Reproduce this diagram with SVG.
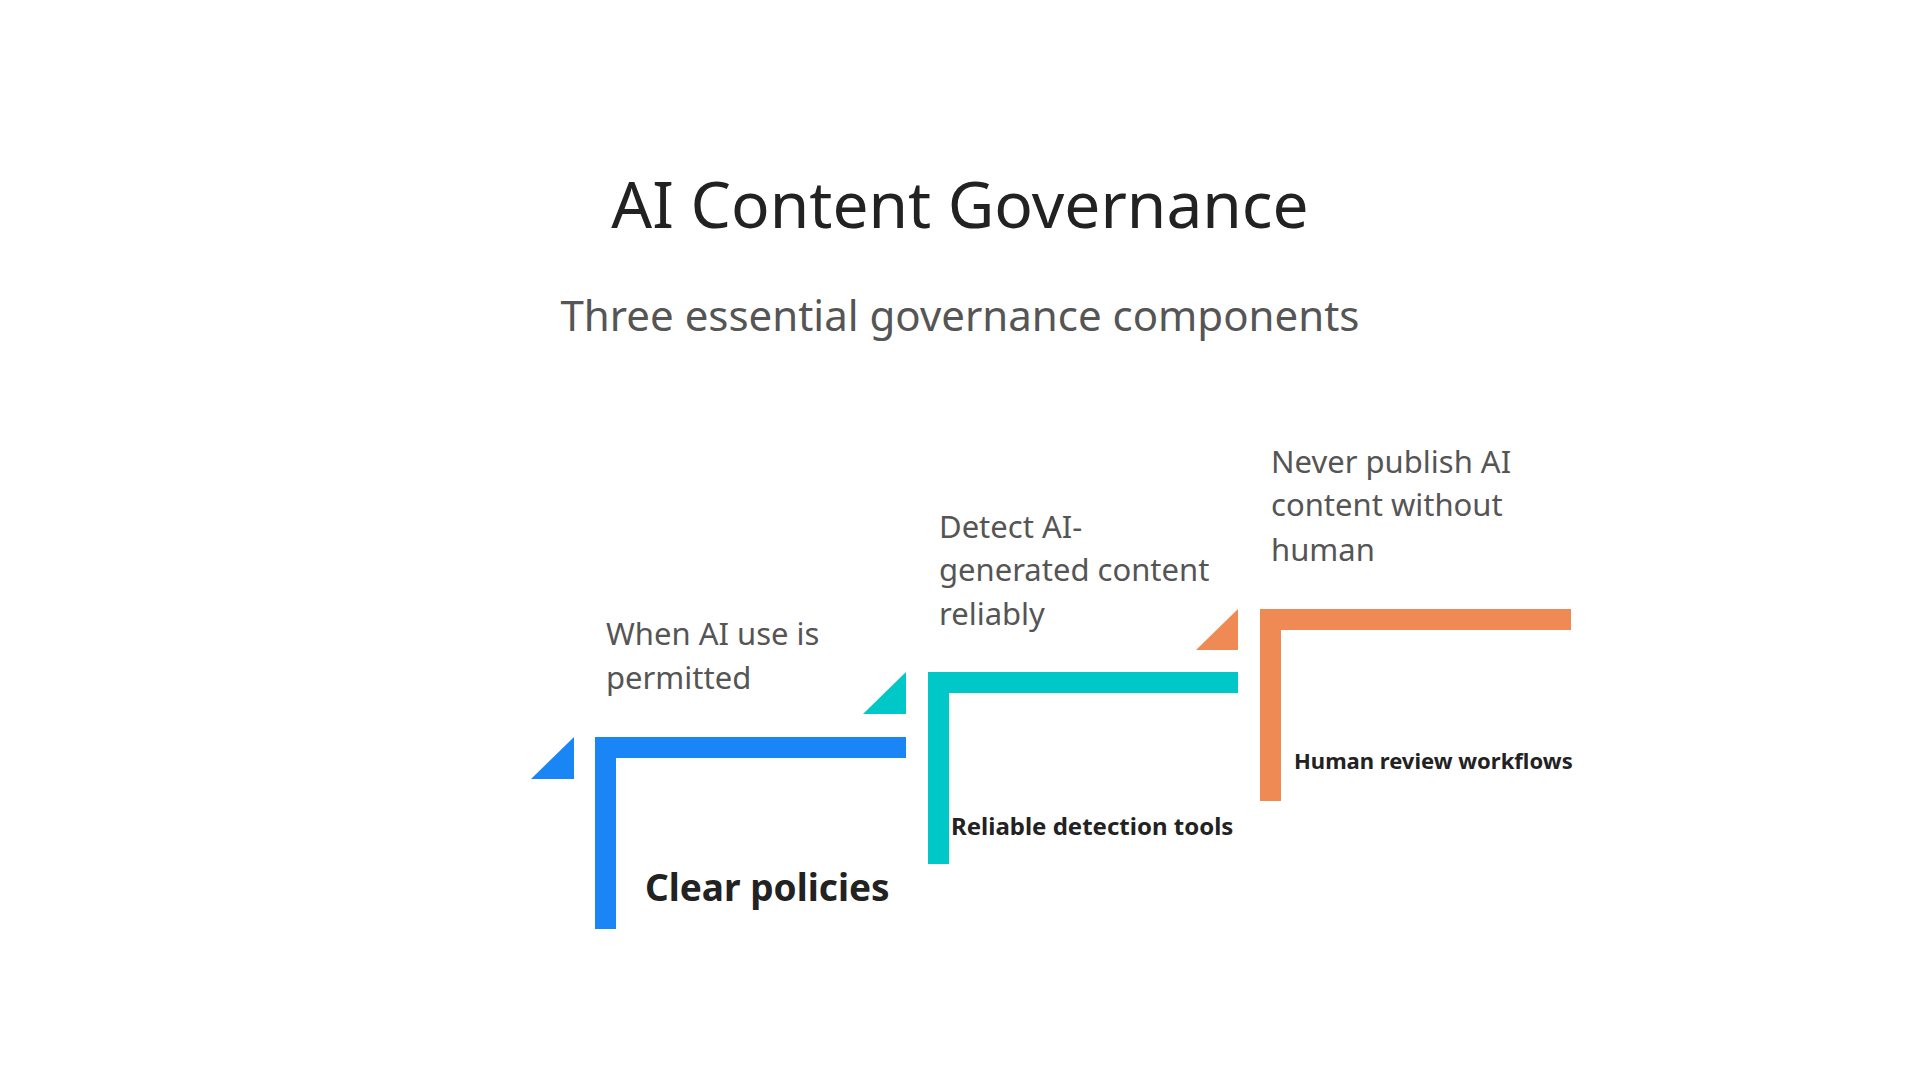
<svg xmlns="http://www.w3.org/2000/svg" width="1920" height="1080" viewBox="0 0 1920 1080">
<style>
text{font-family:"Noto Sans","Open Sans",sans-serif}
.title{font-size:64px;fill:#222}
.sub{font-size:42px;fill:#555}
.desc{font-size:31px;fill:#555}
.lbl{font-weight:bold;fill:#222}
.blue{fill:#1A85F5}.teal{fill:#00C8C8}.orange{fill:#F08A55}
</style>
<rect width="1920" height="1080" fill="#fff"/>
<text class="title" x="960" y="228" text-anchor="middle">AI Content Governance</text>
<text class="sub" x="960" y="331" text-anchor="middle">Three essential governance components</text>
<g id="step1">
<rect class="blue" x="595" y="737" width="21" height="192"/>
<rect class="blue" x="595" y="737" width="311" height="21"/>
<polygon class="blue" points="531,779 574,737 574,779"/>
<text class="lbl" x="645" y="901" font-size="37">Clear policies</text>
<text class="desc" x="606" y="645">When AI use is</text>
<text class="desc" x="606" y="689">permitted</text>
</g>
<g id="step2">
<rect class="teal" x="928" y="672" width="21" height="192"/>
<rect class="teal" x="928" y="672" width="310" height="21"/>
<polygon class="teal" points="863,714 906,672 906,714"/>
<text class="lbl" x="951" y="835" font-size="24">Reliable detection tools</text>
<text class="desc" x="939" y="538">Detect AI-</text>
<text class="desc" x="939" y="581">generated content</text>
<text class="desc" x="939" y="625">reliably</text>
</g>
<g id="step3">
<rect class="orange" x="1260" y="609" width="21" height="192"/>
<rect class="orange" x="1260" y="609" width="311" height="21"/>
<polygon class="orange" points="1196,650 1238,609 1238,650"/>
<text class="lbl" x="1294" y="769" font-size="22">Human review workflows</text>
<text class="desc" x="1271" y="473">Never publish AI</text>
<text class="desc" x="1271" y="516">content without</text>
<text class="desc" x="1271" y="561">human</text>
</g>
<g id="connectors"/>
</svg>
